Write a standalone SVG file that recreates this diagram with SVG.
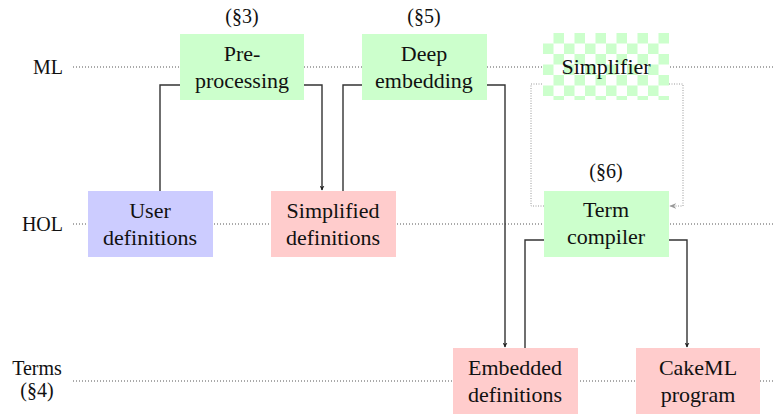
<svg xmlns="http://www.w3.org/2000/svg" width="773" height="414" viewBox="0 0 773 414" font-family="Liberation Serif">
<style>
text{fill:#111;text-anchor:middle}
.ntx{font-size:22px}
.lbl{font-size:20px}
.row{font-size:20px;text-anchor:end}
.green{fill:#ccffcc}
.blue{fill:#ccccff}
.pink{fill:#ffcccc}
.rowline{stroke:#555;stroke-width:1;stroke-dasharray:1 2;fill:none}
.conn{stroke:#333;stroke-width:1.4;fill:none}
.dconn{stroke:#999;stroke-width:1;stroke-dasharray:1 1.5;fill:none}
</style>
<defs>
<pattern id="checker" patternUnits="userSpaceOnUse" x="543" y="33" width="21" height="21">
<rect width="21" height="21" fill="#ffffff"/>
<rect x="10.5" y="0" width="10.5" height="10.5" fill="#ccffcc"/>
<rect x="0" y="10.5" width="10.5" height="10.5" fill="#ccffcc"/>
</pattern>
<marker id="arr" viewBox="0 0 10 10" refX="9" refY="5" markerWidth="5" markerHeight="5" orient="auto" markerUnits="userSpaceOnUse">
<path d="M0,0 L10,5 L0,10 L3,5 Z" fill="#222"/>
</marker>
<marker id="arrg" viewBox="0 0 10 10" refX="9" refY="5" markerWidth="7" markerHeight="7" orient="auto" markerUnits="userSpaceOnUse">
<path d="M0,1 L10,5 L0,9 L3,5 Z" fill="#999"/>
</marker>
</defs>
<rect width="773" height="414" fill="#fff"/>

<g id="rows">
<line class="rowline" x1="73" y1="67" x2="773" y2="67"/>
<line class="rowline" x1="73" y1="224" x2="773" y2="224"/>
<line class="rowline" x1="73" y1="381" x2="773" y2="381"/>
<text class="row" x="63" y="74">ML</text>
<text class="row" x="63" y="231">HOL</text>
<text class="lbl" x="37" y="375">Terms</text>
<text class="lbl" x="37" y="397">(§4)</text>
</g>

<g id="connectors">
<path class="conn" d="M160 191 V85 H180"/>
<path class="conn" d="M304 85 H322 V190" marker-end="url(#arr)"/>
<path class="conn" d="M343 191 V85 H362"/>
<path class="conn" d="M487 85 H505 V347" marker-end="url(#arr)"/>
<path class="conn" d="M525 348 V240 H544"/>
<path class="conn" d="M669 240 H687 V347" marker-end="url(#arr)"/>
<path class="dconn" d="M544 206 H531 V84 H543"/>
<path class="dconn" d="M669 84 H683 V206 H670" marker-end="url(#arrg)"/>
</g>

<g id="preprocessing">
<rect class="green" x="180" y="34" width="124" height="66"/>
<text class="ntx" x="242" y="61">Pre-</text>
<text class="ntx" x="242" y="88">processing</text>
<text class="lbl" x="242" y="23">(§3)</text>
</g>

<g id="deepembedding">
<rect class="green" x="362" y="34" width="125" height="66"/>
<text class="ntx" x="424" y="61">Deep</text>
<text class="ntx" x="424" y="88">embedding</text>
<text class="lbl" x="424" y="23">(§5)</text>
</g>

<g id="simplifier">
<rect x="543" y="33" width="126" height="67" fill="url(#checker)"/>
<text class="ntx" x="606" y="74">Simplifier</text>
</g>

<g id="userdefinitions">
<rect class="blue" x="88" y="191" width="125" height="66"/>
<text class="ntx" x="150" y="218">User</text>
<text class="ntx" x="150" y="245">definitions</text>
</g>

<g id="simplifieddefinitions">
<rect class="pink" x="271" y="191" width="125" height="66"/>
<text class="ntx" x="333" y="218">Simplified</text>
<text class="ntx" x="333" y="245">definitions</text>
</g>

<g id="termcompiler">
<rect class="green" x="544" y="191" width="125" height="66"/>
<text class="ntx" x="606" y="217">Term</text>
<text class="ntx" x="606" y="244">compiler</text>
<text class="lbl" x="606" y="178">(§6)</text>
</g>

<g id="embeddeddefinitions">
<rect class="pink" x="453" y="348" width="125" height="66"/>
<text class="ntx" x="515" y="375">Embedded</text>
<text class="ntx" x="515" y="402">definitions</text>
</g>

<g id="cakemlprogram">
<rect class="pink" x="636" y="348" width="124" height="66"/>
<text class="ntx" x="698" y="375">CakeML</text>
<text class="ntx" x="698" y="402">program</text>
</g>
</svg>
